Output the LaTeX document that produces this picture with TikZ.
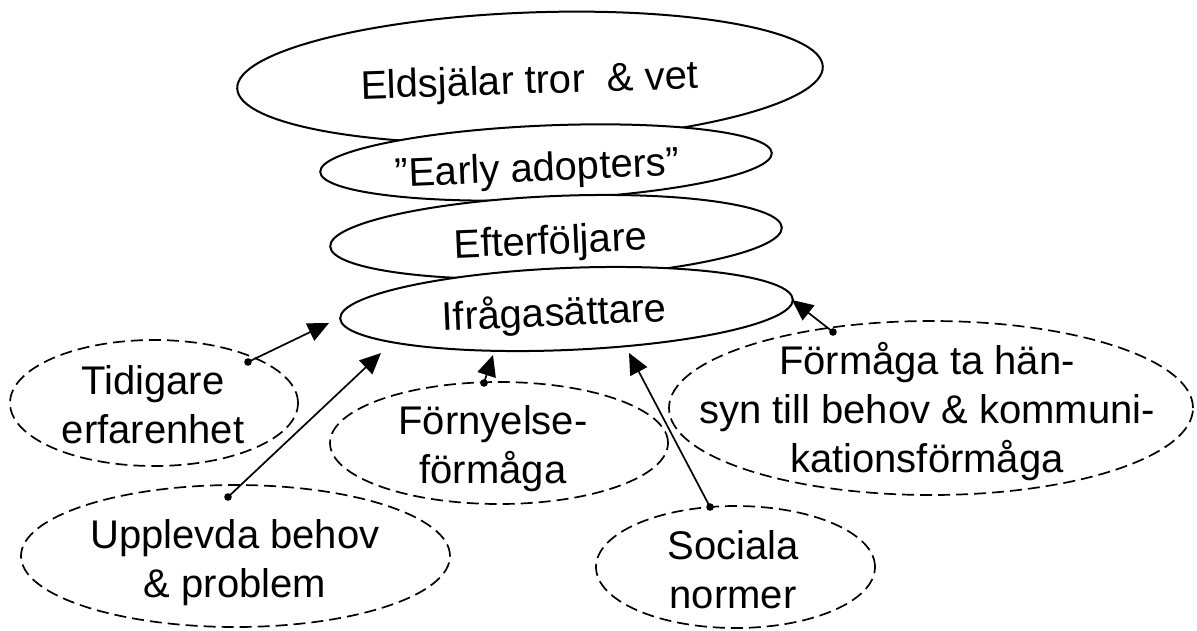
\documentclass[tikz,border=0pt]{standalone}
\usepackage{fontspec}
\setmainfont{Liberation Sans}
\usetikzlibrary{shapes.geometric,arrows.meta}

\tikzset{
  lvl/.style={ellipse, draw, fill=white, line width=2pt, inner sep=0pt},
  factor/.style={ellipse, draw, line width=1.7pt, dash pattern=on 12pt off 6pt, inner sep=0pt},
  lbl/.style={font=\fontsize{40}{49}\selectfont, inner sep=0pt, align=center},
  infl/.style={line width=1.7pt, -{Triangle[length=21pt,width=19pt]}},
  dotmark/.style={fill, radius=3.8pt},
}

\begin{document}
\begin{tikzpicture}[x=1pt,y=-1pt]
\useasboundingbox (0,0) rectangle (1197,630);
\fill[white] (0,0) rectangle (1197,630);

% stacked adoption levels, each one covering the lower edge of the one above
\node[lvl, minimum width=586pt, minimum height=130pt, rotate=2.15] (eld) at (530,77.5) {};
\node[lbl, anchor=base, rotate=1.8] (eldT) at (530,93.8) {Eldsjälar tror\ \ \& vet};
\node[lvl, minimum width=452pt, minimum height=74pt, rotate=2.4] (early) at (546,162.5) {};
\node[lbl, anchor=base, rotate=2.4] (earlyT) at (538,181) {”Early adopters”};
\node[lvl, minimum width=452pt, minimum height=82pt, rotate=2.4] (eft) at (556,237) {};
\node[lbl, anchor=base, rotate=2.4] (eftT) at (551,254) {Efterföljare};
\node[lvl, minimum width=453pt, minimum height=82pt, rotate=2.4] (ifr) at (566.5,309) {};
\node[lbl, anchor=base, rotate=2.4] (ifrT) at (555,326) {Ifrågasättare};

% influencing factors (the base anchor sits on the last line)
\node[factor, minimum width=288pt, minimum height=126pt] (tid) at (154,403) {};
\node[lbl, anchor=base] (tidT) at (153,443) {Tidigare\\erfarenhet};
\node[factor, minimum width=429pt, minimum height=142pt] (upp) at (235.5,556) {};
\node[lbl, anchor=base] (uppT) at (235,597) {Upplevda behov\\\& problem};
\node[factor, minimum width=338pt, minimum height=122pt] (forn) at (499,443) {};
\node[lbl, anchor=base] (fornT) at (493,483) {Förnyelse-\\förmåga};
\node[factor, minimum width=524pt, minimum height=174pt] (hans) at (931,408) {};
\node[lbl, anchor=base] (hansT) at (927,472) {Förmåga ta hän-\\syn till behov \& kommuni-\\kationsförmåga};
\node[factor, minimum width=279pt, minimum height=122pt] (soc) at (735.5,567) {};
\node[lbl, anchor=base] (socT) at (733,608) {Sociala\\normer};

% arrow start and end points
\coordinate (tidS)  at (248,362);
\coordinate (tidE)  at (329,323);
\coordinate (uppS)  at (228,497);
\coordinate (uppE)  at (381,353);
\coordinate (fornS) at (484,383);
\coordinate (fornE) at (493,355);
\coordinate (socS)  at (710,507);
\coordinate (socE)  at (629,353);
\coordinate (hansS) at (833,332);
\coordinate (hansE) at (792,300);

\foreach \s/\e in {tidS/tidE, uppS/uppE, fornS/fornE, socS/socE, hansS/hansE}{
  \draw[infl] (\s) -- (\e);
  \fill[dotmark] (\s) circle;
}
\end{tikzpicture}
\end{document}
